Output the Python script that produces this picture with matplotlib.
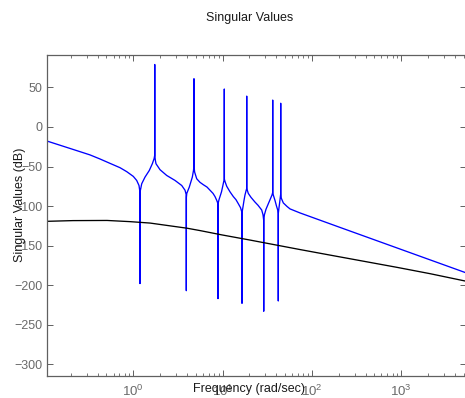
import matplotlib
matplotlib.use("Agg")
import matplotlib.pyplot as plt
from matplotlib.ticker import LogLocator, NullFormatter

plt.rcParams['font.family'] = ['Liberation Sans', 'DejaVu Sans']
plt.rcParams['mathtext.default'] = 'regular'

# ---- data ----
blue_freq = [0.108, 0.213, 0.327, 0.424, 0.548, 0.710, 0.844, 1.0, 1.091, 1.158,
             1.185, 1.188, 1.191, 1.242, 1.352, 1.510, 1.633, 1.710, 1.735, 1.738, 1.741,
             1.765, 1.795, 1.990, 2.366, 2.931, 3.485, 3.794, 3.90, 3.918, 3.924, 3.930,
             3.97, 4.236, 4.58, 4.72, 4.77, 4.78, 4.79, 4.86, 5.13, 5.58, 6.08, 6.69,
             7.23, 7.81, 8.22, 8.61, 8.865, 8.88, 8.895, 9.11, 9.35, 9.72, 10.03, 10.29,
             10.43, 10.45, 10.47, 10.64, 11.12, 12.10, 13.18, 14.13, 14.99, 15.87, 16.45,
             16.49, 16.53, 16.92, 17.36, 17.81, 18.38, 18.60, 18.62, 18.64, 18.91, 19.40,
             20.80, 23.06, 24.92, 27.41, 28.35, 28.84, 28.87, 28.90, 29.39, 30.62, 32.24,
             33.96, 35.75, 36.36, 36.39, 36.42, 36.96, 38.63, 40.13, 41.40, 42.00, 42.04,
             42.08, 42.59, 43.38, 44.16, 44.70, 44.74, 44.78, 45.43, 47.83, 52.62, 56.86,
             73.6, 206.4, 5318]
blue_db = [-17.8, -28.5, -35.3, -40.5, -46, -51.5, -56.5, -62.5, -67.6, -74,
           -82, -198, -82, -71.8, -63.4, -55, -46.5, -40, -36, 79, -36,
           -42, -46.5, -54, -61.3, -67.6, -74, -80, -85, -89, -207, -89,
           -84, -76, -63.4, -55, -50, 61, -50, -57, -65.5, -70, -73, -76,
           -80, -84, -88, -93, -97, -217, -97, -92, -88, -82, -75, -69,
           -66, 48, -66, -69, -75, -82, -88, -92, -97, -102, -108,
           -223, -108, -101, -93, -86, -80, -78, 39, -78, -80, -84,
           -89, -95, -99, -105, -111, -118, -233, -118, -111, -104, -98,
           -92, -86, -83, 34, -83, -86, -93, -100, -105, -109, -220,
           -109, -104, -97, -90, -85, 30, -85, -90, -96, -100.5, -103.6,
           -108.7, -127, -184.4]

black_freq = [0.108, 0.211, 0.508, 0.918, 1.54, 3.99, 5.58, 9.85, 20.3, 73.6, 159.6,
              898, 2104, 5318]
black_db = [-119.3, -118.4, -118.2, -119.7, -121.5, -128, -131, -136.5, -143, -155,
            -162, -177.5, -185.5, -195]

xticks = [1, 10, 100, 1000]
xticklabels = [r'$10^{0}$', r'$10^{1}$', r'$10^{2}$', r'$10^{3}$']
yticks = [-300, -250, -200, -150, -100, -50, 0, 50]

W, H = 465, 398
fig = plt.figure(figsize=(W / 100, H / 100), dpi=100)
ax = fig.add_axes([47 / W, 1 - 375.7 / H, 419 / W, (375.7 - 55) / H])

ax.semilogx(blue_freq, blue_db, color='#0000ff', lw=0.95)
ax.semilogx(black_freq, black_db, color='black', lw=0.95)

ax.set_xlim(0.108, 5318)
ax.set_ylim(-314.5, 91)

gray = '#606060'
for s in ax.spines.values():
    s.set_color(gray)
    s.set_linewidth(0.9)

ax.set_xticks(xticks)
ax.set_xticklabels(xticklabels)
ax.xaxis.set_minor_locator(LogLocator(base=10, subs=range(2, 10), numticks=20))
ax.xaxis.set_minor_formatter(NullFormatter())
ax.set_yticks(yticks)
ax.set_yticklabels([str(v).replace('-', '\u2212') for v in yticks])

ax.tick_params(axis='both', which='major', direction='in', top=True, right=True,
               length=4, width=0.7, color=gray, labelcolor='#6a6a6a', labelsize=9)
ax.tick_params(axis='x', which='major', pad=5.5, length=4.5, labelsize=9.5)
ax.tick_params(axis='y', which='major', pad=3.5)
ax.tick_params(axis='x', which='minor', direction='in', top=True, length=2.2,
               width=0.6, color=gray)

fig.text(250 / W, 1 - 18 / H, 'Singular Values', ha='center', va='center',
         fontsize=9, color='#1a1a1a')
fig.text(249 / W, 1 - 389 / H, 'Frequency (rad/sec)', ha='center', va='center',
         fontsize=9, color='#1a1a1a')
fig.text(20 / W, 1 - 205 / H, 'Singular Values (dB)', ha='center', va='center',
         rotation=90, fontsize=9, color='#1a1a1a')

fig.savefig('out.png', dpi=100)
